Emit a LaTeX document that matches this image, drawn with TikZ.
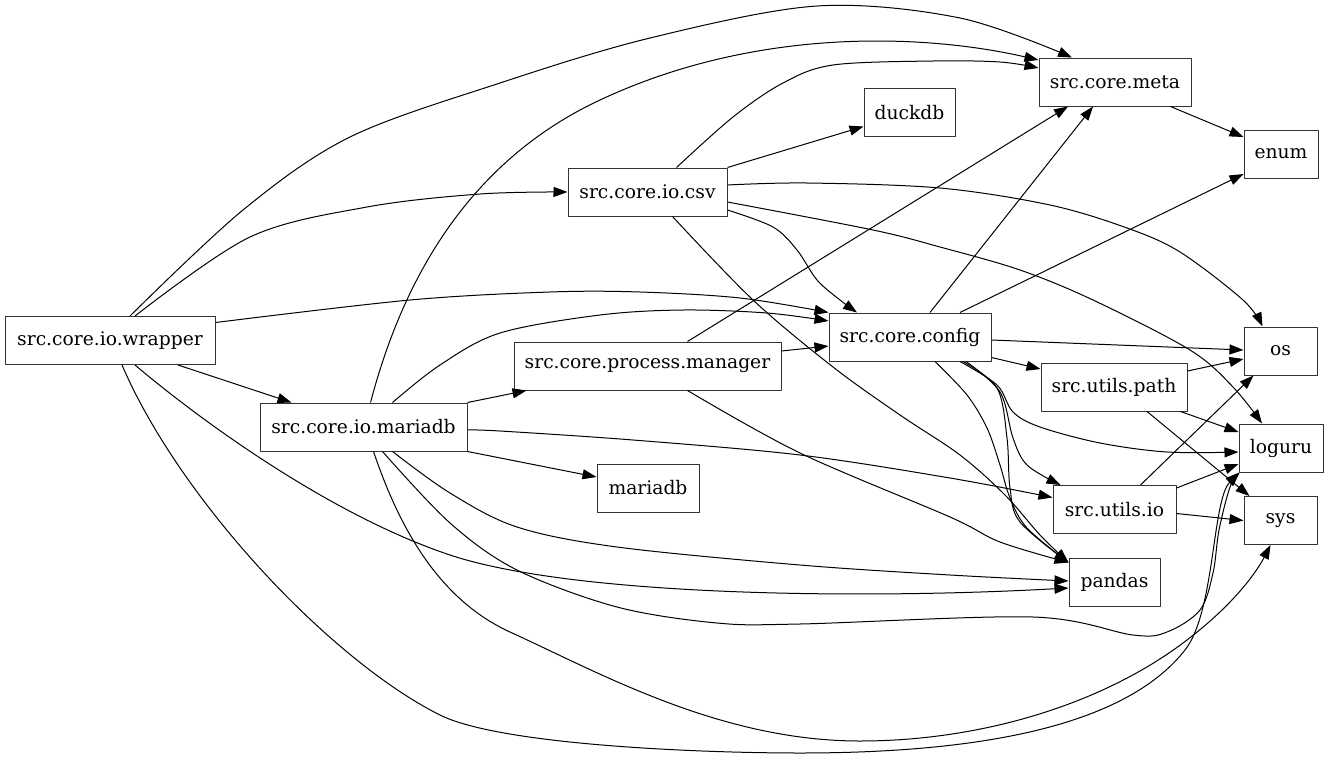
\documentclass[tikz,border=0pt]{standalone}
\usepackage{fontspec}
\setmainfont{DejaVu Serif}
\usetikzlibrary{arrows.meta,calc}

\begin{document}
\begin{tikzpicture}[x=1pt,y=-1pt,>={Triangle[length=14pt,width=10pt]},line join=round]
\useasboundingbox[fill=white] (0,0) rectangle (1328,758);
\tikzset{mod/.style={draw=black!80,line width=1pt,minimum height=48pt,inner sep=0pt,font=\fontsize{18.7}{22}\selectfont},
  dep/.style={draw=black,line width=1pt,->},
  curvedep/.style={dep,smooth,tension=0.55}}
\node[mod,minimum width=210pt] (wrapper) at (110,340.5) {src.core.io.wrapper};
\node[mod,minimum width=159pt] (csv) at (647.5,192) {src.core.io.csv};
\node[mod,minimum width=152pt] (meta) at (1115,82) {src.core.meta};
\node[mod,minimum width=91pt] (duckdb) at (909.5,112.5) {duckdb};
\node[mod,minimum width=74pt] (enum) at (1281,154) {enum};
\node[mod,minimum width=162pt] (config) at (910,337) {src.core.config};
\node[mod,minimum width=267pt] (manager) at (647.5,366) {src.core.process.manager};
\node[mod,minimum width=207pt] (iomariadb) at (363.5,427) {src.core.io.mariadb};
\node[mod,minimum width=102pt] (mariadb) at (648,488) {mariadb};
\node[mod,minimum width=73pt] (os) at (1280.5,351) {os};
\node[mod,minimum width=146pt] (upath) at (1114,387) {src.utils.path};
\node[mod,minimum width=84pt] (loguru) at (1281,448) {loguru};
\node[mod,minimum width=123pt] (uio) at (1114.5,509.5) {src.utils.io};
\node[mod,minimum width=73pt] (sys) at (1280.5,520.5) {sys};
\node[mod,minimum width=91pt] (pandas) at (1114.5,582) {pandas};
\draw[curvedep] plot coordinates {($(wrapper.north)+(20,0)$) (243,210) (350,137) (500,83) (650,38) (817,6) (960,18) ($(meta.north)+(-43,0)$)};
\draw[curvedep] plot coordinates {($(wrapper.north)+(25,0)$) (250,237) (367,207) (480,194) (csv.west)};
\draw[curvedep] plot coordinates {($(wrapper.east)+(0,-18)$) (410,300) (550,292) (640,292) (740,298) (config.north west)};
\draw[dep] ($(wrapper.south)+(68,0)$) -- ($(iomariadb.north)+(-72,0)$);
\draw[dep] ($(wrapper.south)+(25,0)$) .. controls (200,420) and (330,515) .. (450,555) .. controls (570,595) and (850,600) .. ($(pandas.west)+(0,6)$);
\draw[dep] ($(wrapper.south)+(12,0)$) .. controls (180,500) and (330,660) .. (440,715) .. controls (500,745) and (700,753) .. (800,753) .. controls (1000,753) and (1130,720) .. (1185,650) .. controls (1215,612) and (1212,500) .. ($(loguru.south west)+(1,0)$);
\draw[dep] ($(iomariadb.north)+(7,0)$) .. controls (395,310) and (450,170) .. (600,100) .. controls (760,25) and (930,35) .. ($(meta.west)+(0,-22)$);
\draw[curvedep] plot coordinates {($(csv.north)+(29,0)$) (733,117) (783,83) (833,65) (933,61) (1000,62) ($(meta.west)+(0,-14)$)};
\draw[dep] (csv.north east) -- ($(duckdb.west)+(0,14)$);
\draw[curvedep] plot coordinates {($(csv.east)+(0,18)$) (773,227) (797,250) (817,280) (840,300) ($(config.north)+(-53,0)$)};
\draw[curvedep] plot coordinates {($(csv.east)+(0,-7)$) (807,183) (940,188) (1050,205) (1127,228) (1180,252) (1243,300) ($(os.north)+(-18,0)$)};
\draw[curvedep] plot coordinates {($(csv.east)+(0,10)$) (873,230) (940,247) (1020,270) (1093,300) (1190,350) (1233,387) ($(loguru.north)+(-19,0)$)};
\draw[curvedep] plot coordinates {($(csv.south)+(25,0)$) (753,300) (833,367) (900,415) (960,455) (1005,495) (1040,535) ($(pandas.north west)+(0,5)$)};
\draw[dep] ($(manager.north)+(40,0)$) -- ($(meta.south)+(-47,0)$);
\draw[dep] ($(manager.east)+(0,-15)$) -- ($(config.west)+(0,9)$);
\draw[curvedep] plot coordinates {($(manager.south)+(40,0)$) (800,453) (950,517) (1000,542) ($(pandas.north west)+(0,5)$)};
\draw[curvedep] plot coordinates {($(iomariadb.north)+(29,0)$) (440,365) (500,333) (600,315) (683,310) (767,313) ($(config.west)+(0,-16)$)};
\draw[dep] (iomariadb.north east) -- ($(manager.south west)+(13,0)$);
\draw[curvedep] plot coordinates {($(iomariadb.east)+(0,3)$) (500,431) (633,440) (800,455) (950,478) ($(uio.west)+(0,-12)$)};
\draw[dep] (iomariadb.south east) -- ($(mariadb.west)+(0,-11)$);
\draw[curvedep] plot coordinates {($(iomariadb.south)+(29,0)$) (450,493) (517,527) (617,547) (800,565) (950,575) ($(pandas.west)+(0,-1)$)};
\draw[curvedep] plot coordinates {($(iomariadb.south)+(19,0)$) (450,523) (517,570) (617,607) (717,623) (800,624) (1033,617) (1133,635) (1167,632) (1200,610) (1213,573) (1219,530) (1230,487) ($(loguru.south west)+(1,0)$)};
\draw[dep] ($(iomariadb.south)+(10,0)$) .. controls (400,530) and (440,600) .. (510,632) .. controls (600,673) and (720,741) .. (860,741) .. controls (980,741) and (1100,705) .. (1183,643) .. controls (1230,608) and (1255,575) .. ($(sys.south)+(-10,0)$);
\draw[dep] ($(config.north)+(20,0)$) -- ($(meta.south)+(-22,0)$);
\draw[dep] ($(config.north)+(50,0)$) -- ($(enum.west)+(0,20)$);
\draw[dep] ($(config.east)+(0,3)$) -- ($(os.west)+(0,-1)$);
\draw[dep] ($(config.south east)+(0,-4)$) -- ($(upath.west)+(0,-18)$);
\draw[curvedep] plot coordinates {($(config.south)+(50,0)$) (997,385) (1013,412) (1040,427) (1100,443) (1167,452) ($(loguru.west)+(0,4)$)};
\draw[curvedep] plot coordinates {($(config.south)+(56,0)$) (1000,392) (1013,438) (1027,465) ($(uio.north)+(-54,0)$)};
\draw[curvedep] plot coordinates {($(config.south)+(25,0)$) (967,395) (987,428) (1000,465) (1010,498) (1027,528) ($(pandas.north west)+(0,5)$)};
\draw[curvedep] plot coordinates {($(config.south)+(53,0)$) (997,388) (1007,438) (1010,488) (1020,522) ($(pandas.north west)+(0,5)$)};
\draw[dep] ($(meta.south east)+(-21,0)$) -- ($(enum.west)+(0,-17)$);
\draw[dep] ($(upath.east)+(0,-16)$) -- ($(os.west)+(0,8)$);
\draw[dep] ($(upath.south east)+(-7,0)$) -- ($(loguru.west)+(0,-16)$);
\draw[dep] ($(upath.south)+(33,0)$) -- ($(sys.north west)+(6,0)$);
\draw[dep] ($(uio.north)+(26,0)$) -- ($(os.south west)+(10,0)$);
\draw[dep] ($(uio.north east)+(0,3)$) -- ($(loguru.west)+(0,16)$);
\draw[dep] ($(uio.east)+(0,4)$) -- (sys.west);
\end{tikzpicture}
\end{document}
